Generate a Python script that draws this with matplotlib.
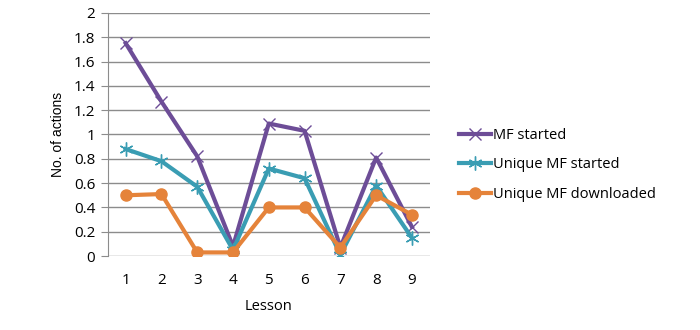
import matplotlib
matplotlib.use("Agg")
import matplotlib.pyplot as plt

# Actions per lesson
lessons = [1, 2, 3, 4, 5, 6, 7, 8, 9]
mf_started = [1.75, 1.27, 0.82, 0.08, 1.09, 1.03, 0.07, 0.81, 0.24]
unique_started = [0.88, 0.78, 0.57, 0.05, 0.72, 0.64, 0.01, 0.58, 0.15]
unique_downloaded = [0.50, 0.51, 0.03, 0.03, 0.40, 0.40, 0.07, 0.50, 0.34]
yticks = [0, 0.2, 0.4, 0.6, 0.8, 1, 1.2, 1.4, 1.6, 1.8, 2]

purple = "#6D4D97"
teal = "#3A9DB3"
orange = "#E5833A"
grid_grey = "#8C8C8C"

fig = plt.figure(figsize=(7, 3.3), dpi=100)
ax = fig.add_axes([0.154, 0.224, 0.46, 0.737])

x = list(range(len(lessons)))
ax.plot(x, mf_started, color=purple, lw=3, marker="x", ms=9, mew=1,
        label="MF started", zorder=3)
ax.plot(x, unique_started, color=teal, lw=3, marker=(6, 2, 0), ms=10, mew=1,
        label="Unique MF started", zorder=4)
ax.plot(x, unique_downloaded, color=orange, lw=3, marker="o", ms=8,
        label="Unique MF downloaded", zorder=5)

ax.set_xlim(-0.5, len(lessons) - 0.5)
ax.set_ylim(0, 2)
ax.set_xticks(x)
ax.set_xticklabels([str(l) for l in lessons])
ax.set_yticks(yticks)
ax.set_yticklabels([f"{v:g}" for v in yticks])
ax.yaxis.grid(True, color=grid_grey, lw=1)
ax.set_axisbelow(True)

for s in ["top", "right", "bottom"]:
    ax.spines[s].set_visible(False)
ax.spines["left"].set_color(grid_grey)
ax.tick_params(axis="x", length=0, pad=12, labelsize=11)
ax.tick_params(axis="y", length=5, color=grid_grey, pad=4, labelsize=11)
for lab in ax.get_xticklabels() + ax.get_yticklabels():
    lab.set_fontfamily("Open Sans")

ax.set_xlabel("Lesson", fontsize=10.5, fontfamily="Open Sans", labelpad=8)
ax.set_ylabel("No. of actions", fontsize=10, fontfamily="Liberation Sans",
              labelpad=6)

leg = ax.legend(loc="center left", bbox_to_anchor=(1.05, 0.375), frameon=False,
                handlelength=2.2, handletextpad=0.1, labelspacing=1.0,
                prop={"family": "Open Sans", "size": 10.5})

fig.savefig("out.png", dpi=100, facecolor="white")
